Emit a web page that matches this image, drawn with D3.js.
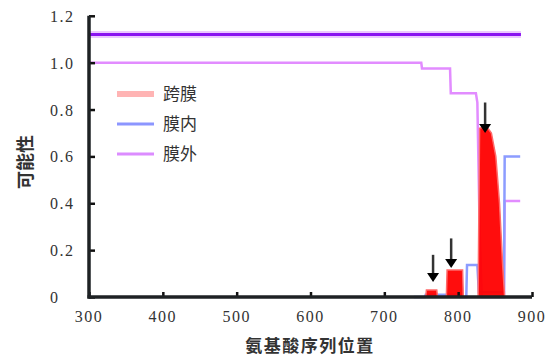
<!DOCTYPE html>
<html>
<head>
<meta charset="utf-8">
<script src="https://cdn.jsdelivr.net/npm/d3@7"></script>
<style>
  html, body { margin: 0; padding: 0; background: #fff; }
  svg { display: block; }
  .tick-label { font-family: "Liberation Serif", "DejaVu Serif", serif; font-size: 16px; fill: #333; letter-spacing: 1.5px; }
  .cjk { font-family: "Noto Sans CJK SC", sans-serif; fill: #333; }
</style>
</head>
<body>
<svg id="chart" width="555" height="360"></svg>
<script>
// tick values
const xTicks = [300, 400, 500, 600, 700, 800, 900];
const yTicks = [0, 0.2, 0.4, 0.6, 0.8, 1.0, 1.2];
const yTickLabels = ["0", "0.2", "0.4", "0.6", "0.8", "1.0", "1.2"];

// legend
const legendNames = ["跨膜", "膜内", "膜外"];
const legendColors = ["#ffb4b4", "#8c96ff", "#dc8cff"];

// topology bar (outside region)
const topBarRange = [300, 885];
const topBarValue = 1.12;

// transmembrane probability
const tmX = [740, 756, 757, 771, 772, 784, 785, 806, 807, 827, 829, 838, 845, 851, 856, 860, 863];
const tmY = [0, 0, 0.03, 0.03, 0, 0, 0.115, 0.115, 0, 0, 0.72, 0.73, 0.70, 0.60, 0.40, 0.15, 0];

// inside probability
const inX = [740, 755, 756, 802, 803, 811, 812, 826, 828, 862, 863, 884];
const inY = [0, 0, 0.01, 0.01, 0, 0, 0.137, 0.137, 0.02, 0.02, 0.60, 0.60];

// outside probability
const outX = [300, 750, 751, 789, 790, 824, 826, 829, 832, 862, 863, 884];
const outY = [1.0, 1.0, 0.975, 0.975, 0.87, 0.87, 0.83, 0.30, 0.0, 0.0, 0.41, 0.41];

// arrows [x, yTop, yTip]
const arrowX = [766, 790.5, 836.5];
const arrowTop = [0.18, 0.25, 0.83];
const arrowTip = [0.064, 0.124, 0.70];

const svg = d3.select("#chart");

const x = d3.scaleLinear().domain([300, 900]).range([89, 532]);
const y = d3.scaleLinear().domain([0, 1.2]).range([297, 15.8]);

const zip = (xs, ys) => xs.map((v, i) => [v, ys[i]]);

// top bar
svg.append("line")
  .attr("x1", x(topBarRange[0])).attr("x2", x(topBarRange[1]))
  .attr("y1", y(topBarValue)).attr("y2", y(topBarValue))
  .attr("stroke", "#ecc8ff").attr("stroke-width", 7);
svg.append("line")
  .attr("x1", x(topBarRange[0])).attr("x2", x(topBarRange[1]))
  .attr("y1", y(topBarValue)).attr("y2", y(topBarValue))
  .attr("stroke", "#8a14f0").attr("stroke-width", 3);

const line = d3.line().x(d => x(d[0])).y(d => y(d[1]));

// outside line
svg.append("path")
  .datum(zip(outX, outY))
  .attr("d", line)
  .attr("fill", "none")
  .attr("stroke", "#e28cff")
  .attr("stroke-width", 2.5);

// inside line
svg.append("path")
  .datum(zip(inX, inY))
  .attr("d", line)
  .attr("fill", "none")
  .attr("stroke", "#8c9cff")
  .attr("stroke-width", 2.5);

// transmembrane area
const area = d3.area().x(d => x(d[0])).y0(y(0)).y1(d => y(d[1]));
svg.append("path")
  .datum(zip(tmX, tmY))
  .attr("d", area)
  .attr("fill", "#ff0000")
  .attr("fill-opacity", 0.95)
  .attr("stroke", "#ff6a6a")
  .attr("stroke-width", 1.5);

// arrows
const arrows = svg.append("g");
arrowX.forEach((ax, i) => {
  const px = x(ax), top = y(arrowTop[i]), tip = y(arrowTip[i]);
  arrows.append("line")
    .attr("x1", px).attr("x2", px)
    .attr("y1", top).attr("y2", tip - 6)
    .attr("stroke", "#333").attr("stroke-width", 2.5);
  arrows.append("path")
    .attr("d", `M${px - 6},${tip - 9} L${px + 6},${tip - 9} L${px},${tip} Z`)
    .attr("fill", "#000");
});

// axes
const xAxis = svg.append("g")
  .attr("transform", `translate(0,${y(0)})`)
  .call(d3.axisBottom(x).tickValues(xTicks).tickSize(-5).tickFormat(""));
const yAxis = svg.append("g")
  .attr("transform", `translate(${x(300)},0)`)
  .call(d3.axisLeft(y).tickValues(yTicks).tickSize(-6).tickFormat(""));

[xAxis, yAxis].forEach(g => {
  g.select(".domain").remove();
  g.selectAll(".tick line").attr("stroke", "#111").attr("stroke-width", 2.5);
});

svg.append("line")
  .attr("x1", x(300)).attr("x2", x(300))
  .attr("y1", y(1.2)).attr("y2", y(0) + 1.5)
  .attr("stroke", "#1e2224").attr("stroke-width", 3.5);
svg.append("line")
  .attr("x1", x(300) - 1.5).attr("x2", x(900))
  .attr("y1", y(0)).attr("y2", y(0))
  .attr("stroke", "#1e2224").attr("stroke-width", 3.5);

// tick labels
svg.append("g").selectAll("text")
  .data(xTicks)
  .join("text")
  .attr("class", "tick-label")
  .attr("x", d => x(d))
  .attr("y", 322)
  .attr("text-anchor", "middle")
  .text(d => d);

svg.append("g").selectAll("text")
  .data(yTicks)
  .join("text")
  .attr("class", "tick-label")
  .attr("x", 50)
  .attr("y", d => y(d) + 6)
  .attr("text-anchor", "start")
  .text((d, i) => yTickLabels[i]);

// axis titles
svg.append("text")
  .attr("class", "cjk")
  .attr("x", 310)
  .attr("y", 352)
  .attr("text-anchor", "middle")
  .attr("font-size", 17)
  .attr("font-weight", "bold")
  .attr("letter-spacing", 1.5)
  .text("氨基酸序列位置");

svg.append("text")
  .attr("class", "cjk")
  .attr("transform", "translate(32,162) rotate(-90)")
  .attr("text-anchor", "middle")
  .attr("font-size", 18)
  .attr("font-weight", "bold")
  .text("可能性");

// legend
const legend = svg.append("g");
legendNames.forEach((name, i) => {
  const ly = 94 + i * 30;
  legend.append("line")
    .attr("x1", 117).attr("x2", 154)
    .attr("y1", ly).attr("y2", ly)
    .attr("stroke", legendColors[i])
    .attr("stroke-width", i === 0 ? 6 : 3);
  legend.append("text")
    .attr("class", "cjk")
    .attr("x", 163)
    .attr("y", ly + 6)
    .attr("font-size", 17)
    .text(name);
});
</script>
</body>
</html>
